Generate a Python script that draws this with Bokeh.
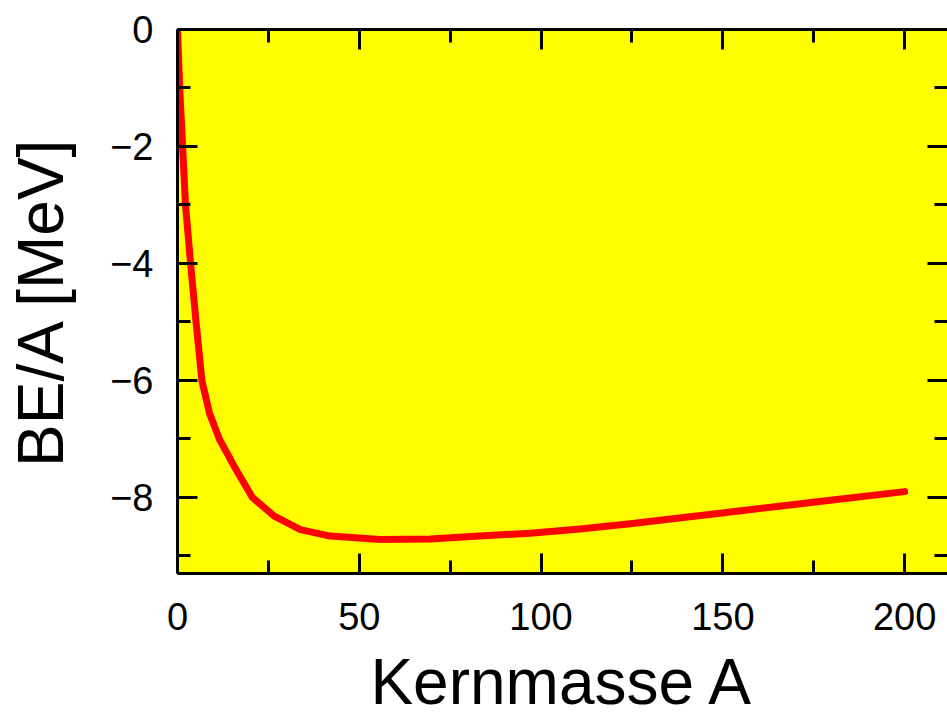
from bokeh.plotting import figure
from bokeh.models import Range1d, LinearAxis, FixedTicker, CustomJSTickFormatter
from bokeh.embed import file_html
from bokeh.resources import INLINE

# Data
mass_A = [0, 0.6, 1.4, 2.2, 3.6, 5.1, 6.7, 8.8, 11.5, 15.6, 20.6, 26.6, 33.8,
          42, 55.8, 69.5, 83, 97, 110.7, 124.5, 149.2, 176.6, 200]
be_per_A = [0, -1.0, -2.0, -3.0, -4.0, -5.0, -6.0, -6.56, -7.0, -7.47, -8.0,
            -8.32, -8.55, -8.66, -8.72, -8.71, -8.66, -8.61, -8.54, -8.45,
            -8.27, -8.07, -7.90]

x_major = [0, 50, 100, 150, 200]
x_minor = [25, 75, 125, 175]
y_major = [0, -2, -4, -6, -8]
y_minor = [-1, -3, -5, -7, -9]

TICK_FONT = "'Liberation Sans', sans-serif"
TITLE_FONT = "'Liberation Sans', sans-serif"

p = figure(width=947, height=720, output_backend="svg", toolbar_location=None,
           x_range=Range1d(0, 211.8), y_range=Range1d(-9.3, 0),
           x_axis_location=None, y_axis_location=None,
           min_border_left=177, min_border_right=0, min_border_top=29,
           min_border_bottom=0)
p.background_fill_color = "#ffff00"
p.border_fill_color = "white"
p.outline_line_color = None
p.xgrid.visible = False
p.ygrid.visible = False

xt = FixedTicker(ticks=x_major, minor_ticks=x_minor)
yt = FixedTicker(ticks=y_major, minor_ticks=y_minor)


def style(ax, labels=True):
    ax.axis_line_width = 3
    ax.axis_line_color = "black"
    ax.major_tick_in = 20
    ax.major_tick_out = 0
    ax.minor_tick_in = 13
    ax.minor_tick_out = 0
    ax.major_tick_line_width = 3
    ax.minor_tick_line_width = 3
    ax.major_tick_line_color = "black"
    ax.minor_tick_line_color = "black"
    ax.major_label_text_color = "black"
    ax.axis_label_text_color = "black"
    if not labels:
        ax.formatter = CustomJSTickFormatter(code="return '';")
        ax.major_label_standoff = 0


bottom = LinearAxis(ticker=xt, axis_label="Kernmasse A")
style(bottom)
bottom.major_label_text_font = TICK_FONT
bottom.major_label_text_font_size = "38px"
bottom.major_label_standoff = 29
bottom.axis_label_text_font = TITLE_FONT
bottom.axis_label_text_font_size = "64px"
bottom.axis_label_text_font_style = "normal"
bottom.axis_label_standoff = 13
p.add_layout(bottom, "below")

left = LinearAxis(ticker=yt, axis_label="BE/A [MeV]")
style(left)
left.major_label_text_font = TICK_FONT
left.major_label_text_font_size = "38px"
left.major_label_standoff = 24
left.axis_label_text_font = TITLE_FONT
left.axis_label_text_font_size = "64px"
left.axis_label_text_font_style = "normal"
left.axis_label_standoff = 30
p.add_layout(left, "left")

top = LinearAxis(ticker=xt)
style(top, labels=False)
p.add_layout(top, "above")

right = LinearAxis(ticker=yt)
style(right, labels=False)
right.axis_line_color = None
p.add_layout(right, "right")

p.line(mass_A, be_per_A, line_color="#ff0000", line_width=7,
       line_cap="round", line_join="round")

open("out.html", "w").write(file_html(p, INLINE))
